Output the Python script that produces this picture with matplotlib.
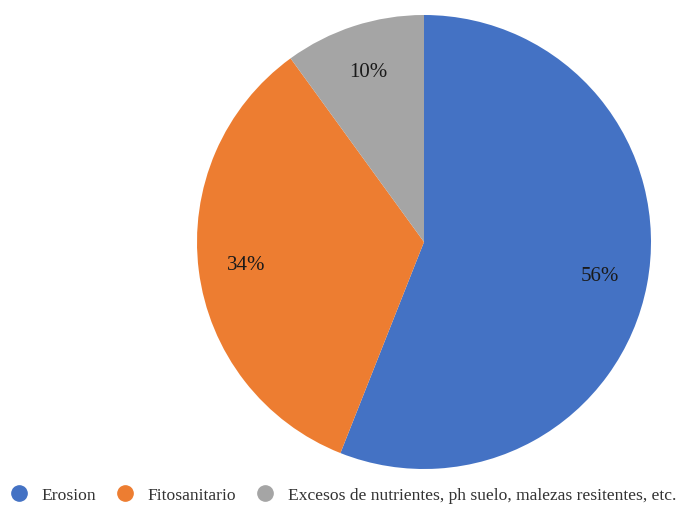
import matplotlib.pyplot as plt
from matplotlib.lines import Line2D

plt.rcParams['font.family'] = ['Liberation Serif', 'DejaVu Serif']

labels = ["Erosion", "Fitosanitario", "Excesos de nutrientes, ph suelo, malezas resitentes, etc."]
values = [56, 34, 10]
colors = ["#4472C4", "#ED7D31", "#A5A5A5"]

fig = plt.figure(figsize=(6.79, 5.06), dpi=100)
ax = fig.add_axes([197 / 679, 36 / 506, 454 / 679, 454 / 506])

wedges, texts, autotexts = ax.pie(
    values, colors=colors, startangle=90, counterclock=False,
    autopct='%1.0f%%', pctdistance=0.79, radius=1.0,
    wedgeprops=dict(linewidth=0),
    textprops=dict(fontsize=15, color='#1a1a1a'))
ax.set_xlim(-1, 1)
ax.set_ylim(-1, 1)
ax.set_aspect('equal')

handles = [Line2D([], [], marker='o', linestyle='none', markersize=11,
                  markerfacecolor=c, markeredgecolor=c) for c in colors]
fig.legend(handles, labels, loc='center left', bbox_to_anchor=(10 / 679, 1 - 496 / 506),
           ncol=3, frameon=False, fontsize=12.6, handletextpad=0.78,
           columnspacing=1.17, handlelength=1.0, borderaxespad=0, borderpad=0,
           labelcolor='#333333')

fig.savefig('out.png', dpi=100)
